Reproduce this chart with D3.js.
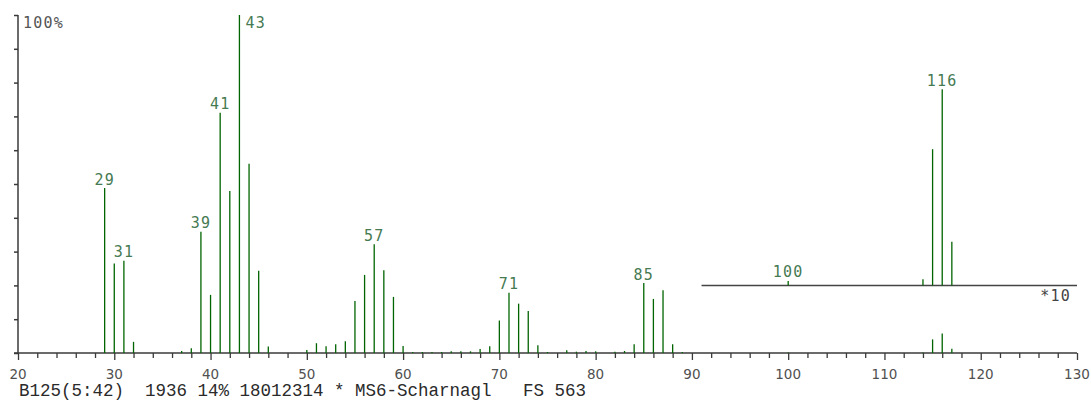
<!DOCTYPE html>
<html>
<head>
<meta charset="utf-8">
<script src="https://cdn.jsdelivr.net/npm/d3@7"></script>
<style>
  html, body { margin: 0; padding: 0; background: #fff; }
  svg { display: block; }
</style>
</head>
<body>
<svg id="chart" width="1091" height="400"></svg>
<script>
// Mass spectrum: m/z and relative intensity (% of base peak)
const masses = [29, 30, 31, 32, 37, 38, 39, 40, 41, 42, 43, 44, 45, 46,
  50, 51, 52, 53, 54, 55, 56, 57, 58, 59, 60, 61, 62, 63, 64, 65, 66, 67, 68, 69,
  70, 71, 72, 73, 74, 75, 77, 78, 79, 80, 82, 83, 84, 85, 86, 87, 88, 89,
  100, 114, 115, 116, 117];
const intensities = [48.8, 26.5, 27.3, 3.3, 0.6, 1.4, 35.9, 17.2, 71.1, 47.9, 100, 56.0, 24.3, 1.9,
  0.9, 2.9, 2.0, 2.6, 3.5, 15.4, 23.1, 32.2, 24.5, 16.6, 2.1, 0.3, 0.3, 0.3, 0.3, 0.5, 0.5, 0.5, 1.2, 2.0,
  9.6, 17.8, 14.6, 12.4, 2.3, 0.3, 0.8, 0.4, 0.6, 0.5, 0.4, 0.6, 2.6, 20.7, 16.0, 18.6, 2.6, 0.3,
  0.13, 0.18, 4.03, 5.8, 1.29];

// Peaks annotated with their m/z
const labelledMain = [29, 31, 39, 41, 43, 57, 71, 85];
const labelledZoom = [100, 116];

// Magnified region (x10) from m/z 91, drawn on a raised baseline
const zoomStart = 91;
const zoomFactor = 10;
const zoomBaseline = 20;   // in % of the main y scale

const xTicks = d3.range(20, 131, 2);
const xLabels = d3.range(20, 131, 10);
const yTicks = d3.range(0, 101, 10);
const footer = "B125(5:42)  1936 14% 18012314 * MS6-Scharnagl   FS 563";

const peaks = masses.map((m, i) => ({ mz: m, v: intensities[i] }));

const svg = d3.select("#chart");
const x = d3.scaleLinear().domain([20, 130]).range([18, 1077]);
const y = d3.scaleLinear().domain([0, 100]).range([353, 15]);

const axisColor = "#3a3a3a";
const barColor = "#006400";
const labelColor = "#467a52";

// y axis with ticks pointing left
const yAxis = d3.axisLeft(y).tickValues(yTicks).tickSize(4).tickFormat("");
const gy = svg.append("g").attr("transform", `translate(${x(20)},0)`).call(yAxis);
gy.select(".domain").attr("stroke", axisColor).attr("stroke-width", 1.5).attr("d", `M0,${y(100)}V${y(0)}`);
gy.selectAll(".tick line").attr("stroke", axisColor).attr("stroke-width", 1.5);

// x axis: minor ticks every 2, longer ticks every 10
const xAxis = d3.axisBottom(x).tickValues(xTicks).tickSizeOuter(0)
  .tickSize(5).tickFormat("");
const gx = svg.append("g").attr("transform", `translate(0,${y(0)})`).call(xAxis);
gx.select(".domain").attr("stroke", axisColor).attr("stroke-width", 1.5)
  .attr("d", `M${x(20) - 4},0H${x(130)}`);
gx.selectAll(".tick line")
  .attr("stroke", axisColor).attr("stroke-width", 1.3)
  .attr("y2", d => d % 10 === 0 ? 7 : 5);

svg.append("g").selectAll("text").data(xLabels).join("text")
  .attr("x", d => x(d)).attr("y", 379)
  .attr("text-anchor", "middle")
  .attr("font-family", "DejaVu Sans, sans-serif")
  .attr("font-size", 13.5)
  .attr("fill", "#505050")
  .text(d => d);

svg.append("text")
  .attr("x", 23).attr("y", 27.5)
  .attr("font-family", "DejaVu Sans Mono, monospace")
  .attr("font-size", 15)
  .attr("letter-spacing", 1.2)
  .attr("fill", "#555")
  .text("100%");

// main spectrum bars
svg.append("g").selectAll("line").data(peaks).join("line")
  .attr("x1", d => x(d.mz)).attr("x2", d => x(d.mz))
  .attr("y1", y(0)).attr("y2", d => y(d.v))
  .attr("stroke", barColor).attr("stroke-width", 1.3);

// magnified inset
const yz = v => y(zoomBaseline + v * zoomFactor);
svg.append("line")
  .attr("x1", x(zoomStart)).attr("x2", x(130))
  .attr("y1", yz(0)).attr("y2", yz(0))
  .attr("stroke", "#444").attr("stroke-width", 1.5);
const zoomPeaks = peaks.filter(d => d.mz >= zoomStart);
svg.append("g").selectAll("line").data(zoomPeaks).join("line")
  .attr("x1", d => x(d.mz)).attr("x2", d => x(d.mz))
  .attr("y1", yz(0)).attr("y2", d => yz(d.v))
  .attr("stroke", barColor).attr("stroke-width", 1.3);
svg.append("text")
  .attr("x", 1071).attr("y", 301)
  .attr("text-anchor", "end")
  .attr("font-family", "DejaVu Sans Mono, monospace")
  .attr("font-size", 15)
  .attr("letter-spacing", 1.2)
  .attr("fill", "#444")
  .text("*" + zoomFactor);

// peak annotations
const labelFont = g => g
  .attr("font-family", "DejaVu Sans Mono, monospace")
  .attr("font-size", 15)
  .attr("letter-spacing", 1.2)
  .attr("fill", labelColor);

const mainLabels = peaks.filter(d => labelledMain.includes(d.mz)).map(d => {
  const top = y(d.v);
  const atTop = top < y(100) + 12;
  return { mz: d.mz, x: atTop ? x(d.mz) + 6 : x(d.mz), y: atTop ? top + 12.5 : top - 3.5, anchor: atTop ? "start" : "middle" };
});
const zoomLabels = zoomPeaks.filter(d => labelledZoom.includes(d.mz)).map(d => (
  { mz: d.mz, x: x(d.mz), y: yz(d.v) - 3.8, anchor: "middle" }));

svg.append("g").selectAll("text").data(mainLabels.concat(zoomLabels)).join("text")
  .attr("x", d => d.x).attr("y", d => d.y)
  .attr("text-anchor", d => d.anchor)
  .call(labelFont)
  .text(d => d.mz);

// acquisition footer
svg.append("text")
  .attr("x", 19).attr("y", 396)
  .attr("xml:space", "preserve")
  .style("white-space", "pre")
  .attr("font-family", "Liberation Mono, Courier New, monospace")
  .attr("font-size", 17.5)
  .attr("fill", "#2a2a2a")
  .text(footer);
</script>
</body>
</html>
